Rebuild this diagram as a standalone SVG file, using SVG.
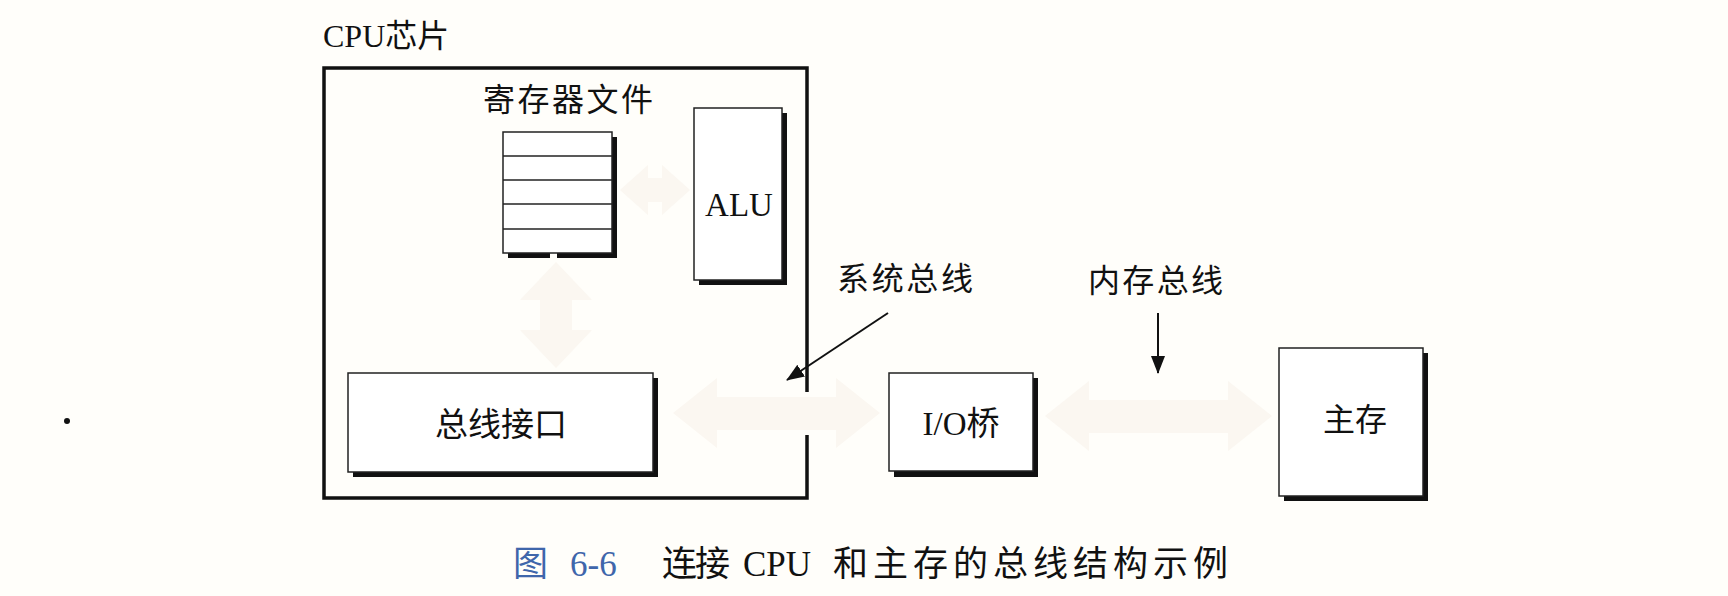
<svg xmlns="http://www.w3.org/2000/svg" width="1728" height="596" viewBox="0 0 1728 596">
  <defs>
    <style>
      .lbl { font-family: "Liberation Serif", "Noto Sans CJK SC", serif; fill: #111; }
      .cjk { font-family: "Noto Sans CJK SC", "Liberation Serif", sans-serif; fill: #111; }
      .box { fill: #ffffff; stroke: #222; stroke-width: 1.5; }
      .shadow { fill: #111; }
      .faint { fill: #fbf7f1; }
      .ptr { stroke: #111; stroke-width: 2; fill: none; }
      .cap { font-family: "Liberation Serif", "Noto Sans CJK SC", serif; font-size: 35px; fill: #111; }
      .capblue { fill: #3f66ab; }
    </style>
    <marker id="ah" markerWidth="18" markerHeight="14" refX="17" refY="7" orient="auto" markerUnits="userSpaceOnUse">
      <path d="M0,0 L18,7 L0,14 Z" fill="#111"/>
    </marker>
  </defs>

  <rect x="0" y="0" width="1728" height="596" fill="#fffefa"/>

  <!-- faint bus arrows -->
  <g id="connectors">
    <path class="faint" d="M673,413 L717,378 L717,397 L836,397 L836,378 L880,413 L836,448 L836,430 L717,430 L717,448 Z"/>
    <path class="faint" d="M1045,416 L1089,381 L1089,400 L1228,400 L1228,381 L1272,416 L1228,451 L1228,433 L1089,433 L1089,451 Z"/>
    <path class="faint" d="M556,262 L592,300 L572,300 L572,330 L592,330 L556,368 L520,330 L540,330 L540,300 L520,300 Z"/>
    <path class="faint" d="M620,190 L648,165 L648,178 L662,178 L662,165 L690,190 L662,215 L662,202 L648,202 L648,215 Z"/>
    <line class="ptr" x1="888" y1="313" x2="787" y2="380" marker-end="url(#ah)"/>
    <line class="ptr" x1="1158" y1="313" x2="1158" y2="373" marker-end="url(#ah)"/>
  </g>

  <!-- CPU chip -->
  <g id="cpu">
    <text class="lbl" x="323" y="47" font-size="32">CPU芯片</text>
    <path d="M807,392 V68 H324 V498 H807 V435" fill="none" stroke="#111" stroke-width="3.5"/>
  </g>

  <!-- register file -->
  <g id="regfile">
    <text class="cjk" x="483" y="111" font-size="32" textLength="170" lengthAdjust="spacing">寄存器文件</text>
    <rect class="shadow" x="612" y="137" width="5" height="121"/>
    <rect class="shadow" x="508" y="253" width="42" height="5"/>
    <rect class="shadow" x="557" y="253" width="60" height="5"/>
    <rect class="box" x="503" y="132" width="109" height="121"/>
    <line x1="503" y1="156" x2="612" y2="156" stroke="#222" stroke-width="1.5"/>
    <line x1="503" y1="180" x2="612" y2="180" stroke="#222" stroke-width="1.5"/>
    <line x1="503" y1="204" x2="612" y2="204" stroke="#222" stroke-width="1.5"/>
    <line x1="503" y1="229" x2="612" y2="229" stroke="#222" stroke-width="1.5"/>
  </g>

  <!-- ALU -->
  <g id="alu">
    <rect class="shadow" x="699" y="113" width="88" height="172"/>
    <rect class="box" x="694" y="108" width="88" height="172"/>
    <text class="lbl" x="739" y="216" font-size="33" text-anchor="middle">ALU</text>
  </g>

  <!-- bus interface -->
  <g id="businterface">
    <rect class="shadow" x="353" y="378" width="305" height="99"/>
    <rect class="box" x="348" y="373" width="305" height="99"/>
    <text class="cjk" x="501" y="436" font-size="33" text-anchor="middle">总线接口</text>
  </g>

  <!-- I/O bridge -->
  <g id="iobridge">
    <rect class="shadow" x="894" y="378" width="144" height="99"/>
    <rect class="box" x="889" y="373" width="144" height="98"/>
    <text class="lbl" x="961" y="435" font-size="33" text-anchor="middle">I/O桥</text>
  </g>

  <!-- main memory -->
  <g id="mainmemory">
    <rect class="shadow" x="1284" y="353" width="144" height="148"/>
    <rect class="box" x="1279" y="348" width="144" height="148"/>
    <text class="cjk" x="1355" y="431" font-size="32" text-anchor="middle">主存</text>
  </g>

  <!-- bus labels -->
  <g id="sysbus-label">
    <text class="cjk" x="837" y="290" font-size="32" textLength="136" lengthAdjust="spacing">系统总线</text>
  </g>
  <g id="membus-label">
    <text class="cjk" x="1088" y="292" font-size="32" textLength="135" lengthAdjust="spacing">内存总线</text>
  </g>

  <!-- stray dot -->
  <circle cx="67" cy="421" r="3" fill="#111"/>

  <!-- caption -->
  <g id="caption">
    <text class="cap capblue" x="513" y="576" font-family="Noto Sans CJK SC, sans-serif">图</text>
    <text class="cap capblue" x="570" y="576">6-6</text>
    <text class="cap" x="662" y="576" textLength="68" lengthAdjust="spacing">连接</text>
    <text class="cap" x="743" y="576">CPU</text>
    <text class="cap" x="833" y="576" textLength="395" lengthAdjust="spacing">和主存的总线结构示例</text>
  </g>
</svg>
